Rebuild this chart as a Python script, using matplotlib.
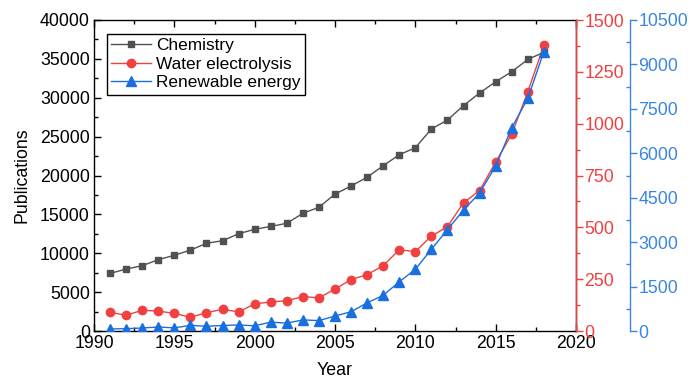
import matplotlib
matplotlib.use("Agg")
import matplotlib.pyplot as plt
from matplotlib.ticker import MultipleLocator

plt.rcParams['font.family'] = ['Liberation Sans', 'DejaVu Sans']
plt.rcParams['font.size'] = 12.8

years = list(range(1991, 2019))
chemistry = [7400, 7970, 8400, 9170, 9740, 10400, 11280, 11610, 12510, 13080,
             13450, 13850, 15140, 15910, 17610, 18650, 19770, 21260, 22670, 23570,
             25980, 27130, 29000, 30610, 32060, 33350, 34920, 35860]
water = [90, 76, 100, 96, 85, 66, 88, 105, 92, 131,
         140, 146, 166, 160, 202, 248, 272, 315, 392, 383,
         458, 503, 619, 677, 815, 949, 1154, 1378]
renewable = [68, 79, 101, 135, 105, 191, 160, 185, 205, 175,
             300, 265, 375, 350, 506, 650, 950, 1205, 1660, 2080,
             2760, 3420, 4085, 4660, 5570, 6860, 7855, 9430]

c_chem = '#515151'
c_red = '#F14040'
c_blue = '#1A6FDF'
c_blue_ax = '#3A86E2'

fig = plt.figure(figsize=(6.92, 3.79), dpi=100)
ax = fig.add_axes([94/692, 48/379, 482/692, 311/379])

l1, = ax.plot(years, chemistry, color=c_chem, marker='s', markersize=4.8, lw=1.0,
              label='Chemistry')
ax.set_xlim(1990, 2020)
ax.set_ylim(0, 40000)
ax.xaxis.set_major_locator(MultipleLocator(5))
ax.xaxis.set_minor_locator(MultipleLocator(2.5))
ax.yaxis.set_major_locator(MultipleLocator(5000))
ax.yaxis.set_minor_locator(MultipleLocator(2500))
ax.tick_params(axis='both', which='major', direction='in', length=5, width=1, top=True)
ax.tick_params(axis='both', which='minor', direction='in', length=3, width=1, top=True)
ax.tick_params(axis='x', pad=3)
ax.tick_params(axis='y', pad=3)
ax.set_xlabel('Year', labelpad=7)
ax.set_ylabel('Publications', labelpad=7)
for s in ax.spines.values():
    s.set_linewidth(1.0)

ax2 = ax.twinx()
l2, = ax2.plot(years, water, color=c_red, marker='o', markersize=6, lw=1.0,
               label='Water electrolysis')
ax2.set_ylim(0, 1500)
ax2.yaxis.set_major_locator(MultipleLocator(250))
ax2.yaxis.set_minor_locator(MultipleLocator(125))
ax2.tick_params(axis='y', which='major', direction='out', length=5, width=1,
                colors=c_red, pad=1)
ax2.tick_params(axis='y', which='minor', direction='out', length=3, width=1,
                colors=c_red)
ax2.spines['right'].set_color(c_red)
ax2.spines['right'].set_linewidth(1.0)
ax2.spines['left'].set_visible(False)
ax2.spines['top'].set_visible(False)
ax2.spines['bottom'].set_visible(False)

ax3 = ax.twinx()
ax3.spines['right'].set_position(('axes', 1.112))
l3, = ax3.plot(years, renewable, color=c_blue, marker='^', markersize=6.5, lw=1.0,
               label='Renewable energy')
ax3.set_ylim(0, 10500)
ax3.yaxis.set_major_locator(MultipleLocator(1500))
ax3.yaxis.set_minor_locator(MultipleLocator(750))
ax3.tick_params(axis='y', which='major', direction='out', length=5, width=1,
                colors=c_blue_ax, pad=1)
ax3.tick_params(axis='y', which='minor', direction='in', length=3, width=1,
                colors=c_blue_ax)
ax3.spines['right'].set_color(c_blue_ax)
ax3.spines['right'].set_linewidth(1.0)
for k in ('left', 'top', 'bottom'):
    ax3.spines[k].set_visible(False)

leg = ax3.legend(handles=[l1, l2, l3], loc='upper left',
                 bbox_to_anchor=(0.027, 0.955), frameon=True, fancybox=False,
                 edgecolor='black', framealpha=1, borderpad=0.25,
                 handlelength=2.3, handletextpad=0.3, labelspacing=0.2,
                 borderaxespad=0, prop={'size': 12.4})
leg.get_frame().set_linewidth(1.0)

fig.savefig('out.png', dpi=100)
